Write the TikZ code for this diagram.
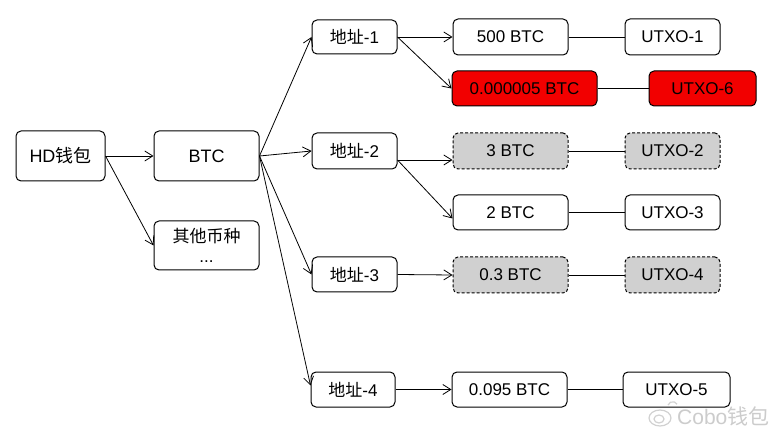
\documentclass[tikz,border=0pt]{standalone}
\usepackage{fontspec}
\setmainfont{Liberation Sans}
\newfontfamily\cjk{Noto Sans CJK SC}
\usetikzlibrary{arrows.meta,calc}
\definecolor{grayfill}{HTML}{D0D0D0}
\definecolor{redfill}{HTML}{F20000}
\tikzset{
  box/.style={draw, rounded corners=5pt, line width=1pt, inner sep=0pt, align=center,
    font=\fontsize{17}{20}\selectfont},
  bigbox/.style={box, font=\fontsize{18}{21}\selectfont},
  redbox/.style={box, fill=redfill},
  graybox/.style={box, fill=grayfill, dashed, dash pattern=on 3pt off 2pt},
  arr/.style={line width=0.8pt, -{Straight Barb[length=8pt,width=10pt,line width=0.8pt]}},
  link/.style={line width=0.8pt},
  wmark/.style={draw=black!18, line width=1.2pt},
}
\begin{document}
\begin{tikzpicture}[x=1pt,y=-1pt]
\useasboundingbox (0,0) rectangle (784,435);
\fill[white] (0,0) rectangle (784,435);
% level 1 and 2
\node[bigbox, minimum width=89, minimum height=50] (hd) at (60.5,156) {HD{\cjk 钱包}};
\node[bigbox, minimum width=105, minimum height=50] (btc) at (206.5,156) {BTC};
\node[box, minimum width=105, minimum height=49] (other) at (206.5,245.5) {{\cjk 其他币种}\\...};
% addresses
\node[box, minimum width=85, minimum height=34] (a1) at (354.5,37) {{\cjk 地址}-1};
\node[box, minimum width=85, minimum height=36] (a2) at (354.5,151) {{\cjk 地址}-2};
\node[box, minimum width=85, minimum height=35] (a3) at (354.5,274.5) {{\cjk 地址}-3};
\node[box, minimum width=84, minimum height=35] (a4) at (353,389.5) {{\cjk 地址}-4};
% values
\node[box, minimum width=115, minimum height=36] (v1) at (510.5,37) {500 BTC};
\node[redbox, minimum width=145, minimum height=35] (v6) at (524.5,88.5) {0.000005 BTC};
\node[graybox, minimum width=115, minimum height=36] (v2) at (510.5,151) {3 BTC};
\node[box, minimum width=115, minimum height=35] (v3) at (510.5,212.5) {2 BTC};
\node[graybox, minimum width=115, minimum height=36] (v4) at (510.5,275) {0.3 BTC};
\node[box, minimum width=115, minimum height=35] (v5) at (509.5,389.5) {0.095 BTC};
% utxos
\node[box, minimum width=95, minimum height=36] (u1) at (672.5,37) {UTXO-1};
\node[redbox, minimum width=107, minimum height=35] (u6) at (702.5,88.5) {UTXO-6};
\node[graybox, minimum width=95, minimum height=36] (u2) at (672.5,151) {UTXO-2};
\node[box, minimum width=95, minimum height=35] (u3) at (672.5,212.5) {UTXO-3};
\node[graybox, minimum width=95, minimum height=36] (u4) at (672.5,275) {UTXO-4};
\node[box, minimum width=107, minimum height=35] (u5) at (676.5,389.5) {UTXO-5};
% arrows
\draw[arr] (hd.east) -- (btc.west);
\draw[arr] (hd.east) -- (other.west);
\draw[arr] (btc.east) -- (a1.west);
\draw[arr] (btc.east) -- (a2.west);
\draw[arr] (btc.east) -- (a3.west);
\draw[arr] (btc.east) -- ($(a4.west)+(0,-4)$);
\draw[arr] (a1.east) -- (v1.west);
\draw[arr] (a1.east) -- (v6.west);
\draw[arr] ($(a2.east)+(0,9)$) -- ($(v2.west)+(0,9)$);
\draw[arr] ($(a2.east)+(0,9)$) -- ($(v3.west)+(0,6)$);
\draw[arr] (a3.east) -- (v4.west);
\draw[arr] (a4.east) -- (v5.west);
% links
\draw[link] (v1.east) -- (u1.west);
\draw[link] (v6.east) -- (u6.west);
\draw[link] (v2.east) -- (u2.west);
\draw[link] (v3.east) -- (u3.west);
\draw[link] (v4.east) -- (u4.west);
\draw[link] (v5.east) -- (u5.west);
% watermark
\draw[wmark] (660,418) ellipse (11 and 8);
\draw[wmark] (659,419) ellipse (5 and 4);
\draw[wmark] (668,405) arc (200:330:5);
\node[text=black!20, font=\fontsize{21}{23}\selectfont, anchor=west, inner sep=0pt] (wm) at (677,416) {Cobo{\cjk 钱包}};
\end{tikzpicture}
\end{document}
